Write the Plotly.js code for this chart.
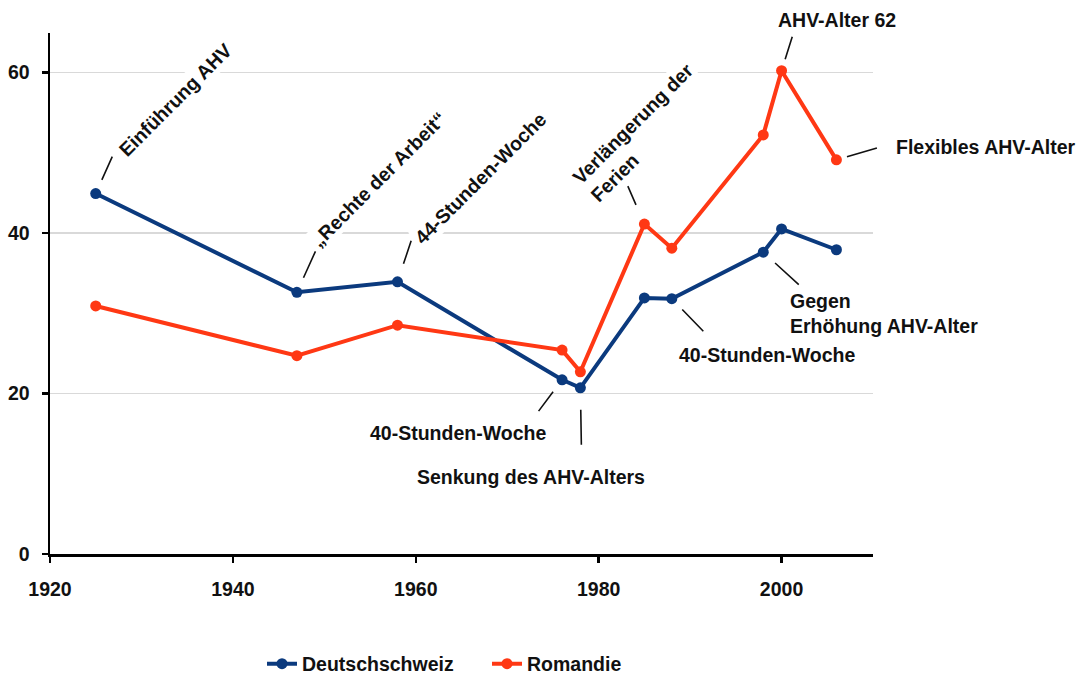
<!DOCTYPE html>
<html>
<head>
<meta charset="utf-8">
<script src="https://cdn.plot.ly/plotly-3.0.1.min.js"></script>
<style>
  html, body { margin: 0; padding: 0; background: #ffffff; }
  #chart { width: 1082px; height: 677px; }
</style>
</head>
<body>
<div id="chart"></div>
<script>
// ---- data ----
const years = [1925, 1947, 1958, 1976, 1978, 1985, 1988, 1998, 2000, 2006];
const deutschschweiz = [44.9, 32.6, 33.9, 21.7, 20.7, 31.9, 31.8, 37.6, 40.5, 37.9];
const romandie = [30.9, 24.7, 28.5, 25.4, 22.7, 41.1, 38.1, 52.2, 60.2, 49.1];
const seriesNames = ['Deutschschweiz', 'Romandie'];
const xTickVals = [1920, 1940, 1960, 1980, 2000];
const yTickVals = [0, 20, 40, 60];

// event labels: text, year, series the label points to
const eventTexts = [
  'Einführung AHV',
  '„Rechte der Arbeit“',
  '44-Stunden-Woche',
  'Verlängerung der<br>Ferien',
  'AHV-Alter 62',
  'Flexibles AHV-Alter',
  'Gegen<br>Erhöhung AHV-Alter',
  '40-Stunden-Woche',
  '40-Stunden-Woche',
  'Senkung des AHV-Alters'
];
const eventYears = [1925, 1947, 1958, 1985, 2000, 2006, 1998, 1988, 1976, 1978];
const eventSeries = [0, 0, 0, 1, 1, 1, 0, 0, 0, 0];

// ---- styling / placement (pixels) ----
// text: [xshift, yshift(down positive), angle, xanchor, align]
const textPlacement = [
  [79, -94, -45, 'center', 'center'],
  [82, -113, -45, 'center', 'center'],
  [83, -104, -45, 'center', 'center'],
  [-3, -92, -45, 'center', 'left'],
  [55, -51, 0, 'center', 'center'],
  [58, -13, 0, 'left', 'left'],
  [25, 61.5, 0, 'left', 'left'],
  [95, 56, 0, 'center', 'center'],
  [-104.5, 53, 0, 'center', 'center'],
  [-49, 89, 0, 'center', 'center']
];
// leader: [ax, ay, standoff]
const leaderPlacement = [
  [17, -38, 15],
  [19, -42, 16],
  [14, -42, 19],
  [-17, -39, 21],
  [11, -35, 12],
  [41, -12, 11],
  [36, 33, 16],
  [32, 33, 15],
  [-24, 32, 15],
  [1, 58, 22]
];

const colors = ['#0b3a7e', '#ff3814'];
const FONT = 'Liberation Sans, Arial, Helvetica, sans-serif';
const FS = 19.5;

const seriesValues = [deutschschweiz, romandie];
function valueAt(series, year) {
  return seriesValues[series][years.indexOf(year)];
}

const traces = seriesValues.map((vals, i) => ({
  type: 'scatter',
  mode: 'lines+markers',
  name: seriesNames[i],
  x: years,
  y: vals,
  line: { color: colors[i], width: 4 },
  marker: { color: colors[i], size: 11 },
  hoverinfo: 'skip'
}));

const annotations = [];
eventTexts.forEach((t, i) => {
  const p = textPlacement[i];
  annotations.push({
    x: eventYears[i], y: valueAt(eventSeries[i], eventYears[i]),
    xref: 'x', yref: 'y',
    text: t, showarrow: false,
    xshift: p[0], yshift: -p[1],
    textangle: p[2],
    xanchor: p[3], yanchor: 'middle', align: p[4],
    bgcolor: '#ffffff', borderpad: 1,
    font: { family: FONT, size: FS, color: '#111111', weight: 'bold' }
  });
});
eventTexts.forEach((t, i) => {
  const l = leaderPlacement[i];
  annotations.push({
    x: eventYears[i], y: valueAt(eventSeries[i], eventYears[i]),
    xref: 'x', yref: 'y',
    text: ' ', showarrow: true,
    ax: l[0], ay: l[1], standoff: l[2],
    arrowhead: 0, arrowwidth: 1.6, arrowcolor: '#111111',
    font: { size: 1 }, borderpad: 0
  });
});

const layout = {
  width: 1082, height: 677,
  margin: { l: 50, r: 209, t: 33, b: 123 },
  paper_bgcolor: '#ffffff', plot_bgcolor: '#ffffff',
  font: { family: FONT, size: FS, color: '#111111', weight: 'bold' },
  showlegend: true,
  legend: {
    orientation: 'h',
    xref: 'container', yref: 'container',
    x: 262 / 1082, xanchor: 'left',
    y: 1 - 664 / 677, yanchor: 'middle',
    entrywidth: 180, entrywidthmode: 'pixels',
    font: { family: FONT, size: FS, color: '#111111', weight: 'bold' },
    bgcolor: 'rgba(0,0,0,0)'
  },
  xaxis: {
    range: [1920, 2010],
    tickvals: xTickVals,
    ticks: 'outside', ticklen: 6, tickwidth: 2.5, tickcolor: '#000000',
    showline: true, linecolor: '#000000', linewidth: 2.5,
    showgrid: false, zeroline: false,
    ticklabelstandoff: 10,
    tickfont: { family: FONT, size: FS, color: '#111111', weight: 'bold' }
  },
  yaxis: {
    range: [0, 64.9],
    tickvals: yTickVals,
    ticks: 'outside', ticklen: 6, tickwidth: 2.5, tickcolor: '#000000',
    showline: true, linecolor: '#000000', linewidth: 2.5,
    showgrid: true, gridcolor: '#d9d9d9', gridwidth: 1.5,
    zeroline: false,
    ticklabelstandoff: 8,
    tickfont: { family: FONT, size: FS, color: '#111111', weight: 'bold' }
  },
  annotations: annotations,
  hovermode: false
};

Plotly.newPlot('chart', traces, layout, { staticPlot: true, displayModeBar: false });
</script>
</body>
</html>
